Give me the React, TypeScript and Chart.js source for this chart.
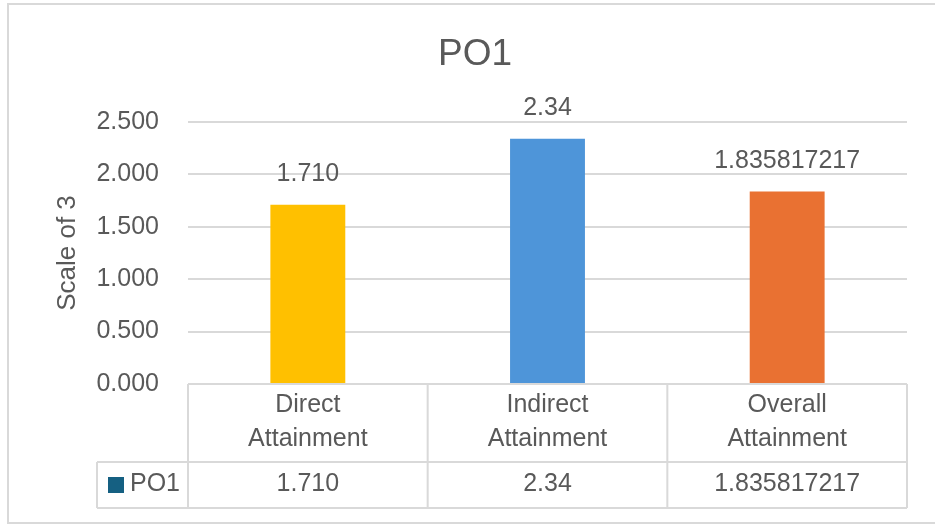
import React, { useEffect, useRef } from "react";
import { Chart, registerables } from "chart.js";

Chart.register(...registerables);

const chartTitle = "PO1";
const seriesName = "PO1";
const categories = ["Direct Attainment", "Indirect Attainment", "Overall Attainment"];
const values = [1.71, 2.34, 1.835817217];
const valueLabels = ["1.710", "2.34", "1.835817217"];
const barColors = ["#FFC000", "#4E95D9", "#E97132"];
const legendColor = "#156082";
const yMin = 0;
const yMax = 2.5;
const yStep = 0.5;
const yAxisTitle = "Scale of 3";

const FONT = "'Liberation Sans', Arial, sans-serif";
const TEXT = "#595959";
const LINE = "#d9d9d9";

const decorPlugin = {
  id: "decor",
  beforeDraw(chart: any) {
    const ctx = chart.ctx;
    ctx.save();
    ctx.fillStyle = "#ffffff";
    ctx.fillRect(0, 0, chart.width, chart.height);
    ctx.strokeStyle = LINE;
    ctx.lineWidth = 2;
    ctx.strokeRect(8, 4, 940, 519);
    ctx.fillStyle = TEXT;
    ctx.font = `37px ${FONT}`;
    ctx.textAlign = "center";
    ctx.textBaseline = "middle";
    ctx.fillText(chartTitle, 475, 55);
    ctx.restore();
  },
  afterDatasetsDraw(chart: any) {
    const ctx = chart.ctx;
    const meta = chart.getDatasetMeta(0);
    ctx.save();
    ctx.fillStyle = TEXT;
    ctx.font = `25px ${FONT}`;
    ctx.textAlign = "center";
    ctx.textBaseline = "alphabetic";
    meta.data.forEach((el: any, i: number) => {
      ctx.fillText(valueLabels[i], el.x, el.y - 24);
    });
    ctx.restore();
  },
  afterDraw(chart: any) {
    const ctx = chart.ctx;
    const { left, right, bottom } = chart.chartArea;
    const n = categories.length;
    const colW = (right - left) / n;
    const headerBottom = bottom + 78;
    const rowBottom = bottom + 124;
    const legendLeft = left - 91;
    ctx.save();
    ctx.strokeStyle = LINE;
    ctx.lineWidth = 2;
    ctx.beginPath();
    ctx.moveTo(left, bottom);
    ctx.lineTo(right, bottom);
    ctx.moveTo(legendLeft, headerBottom);
    ctx.lineTo(right, headerBottom);
    ctx.moveTo(legendLeft, rowBottom);
    ctx.lineTo(right, rowBottom);
    ctx.moveTo(legendLeft, headerBottom);
    ctx.lineTo(legendLeft, rowBottom);
    for (let i = 0; i <= n; i++) {
      const x = left + i * colW;
      ctx.moveTo(x, bottom);
      ctx.lineTo(x, rowBottom);
    }
    ctx.stroke();

    ctx.fillStyle = TEXT;
    ctx.font = `25px ${FONT}`;
    ctx.textAlign = "center";
    ctx.textBaseline = "middle";
    categories.forEach((c, i) => {
      const cx = left + (i + 0.5) * colW;
      const parts = c.split(" ");
      ctx.fillText(parts[0], cx, bottom + 21);
      ctx.fillText(parts.slice(1).join(" "), cx, bottom + 55);
      ctx.fillText(valueLabels[i], cx, bottom + 100);
    });
    // legend key
    ctx.fillStyle = legendColor;
    ctx.fillRect(legendLeft + 11, bottom + 93, 16, 16);
    ctx.fillStyle = TEXT;
    ctx.textAlign = "left";
    ctx.fillText(seriesName, legendLeft + 33, bottom + 100);
    ctx.restore();
  },
};

export default function App() {
  const ref = useRef<HTMLCanvasElement | null>(null);
  useEffect(() => {
    if (!ref.current) return;
    const chart = new Chart(ref.current, {
      type: "bar",
      data: {
        labels: categories,
        datasets: [
          {
            label: seriesName,
            data: values,
            backgroundColor: barColors,
            barPercentage: 0.3125,
            categoryPercentage: 1,
          },
        ],
      },
      options: {
        responsive: false,
        animation: false,
        devicePixelRatio: 1,
        layout: { padding: { left: 0, right: 28, top: 122, bottom: 141 } },
        plugins: {
          legend: { display: false },
          tooltip: { enabled: false },
          title: { display: false },
        },
        scales: {
          x: { display: false },
          y: {
            min: yMin,
            max: yMax,
            ticks: {
              stepSize: yStep,
              callback: (v: any) => Number(v).toFixed(3),
              color: TEXT,
              font: { family: FONT, size: 25 },
              padding: 29,
            },
            grid: { color: LINE, lineWidth: 2, drawTicks: false },
            border: { display: false },
            title: {
              display: true,
              text: yAxisTitle,
              color: TEXT,
              font: { family: FONT, size: 26 },
              padding: { top: 52, bottom: 0 },
            },
            afterFit: (s: any) => {
              s.width = 188;
            },
          },
        },
      },
      plugins: [decorPlugin],
    } as any);
    return () => chart.destroy();
  }, []);
  return (
    <div style={{ position: "absolute", left: 0, top: 0, width: 935, height: 525 }}>
      <canvas ref={ref} width={935} height={525} style={{ display: "block" }} />
    </div>
  );
}
